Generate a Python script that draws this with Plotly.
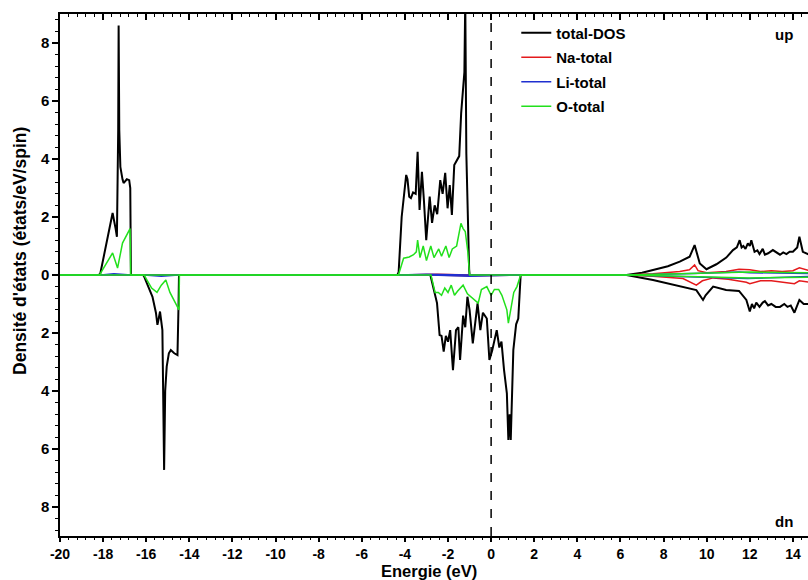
import numpy as np
import plotly.graph_objects as go

# ---------------- data ----------------
E_tot_up = [-20, -18.2, -18.13, -17.9, -17.7, -17.56, -17.42, -17.36, -17.3, -17.28, -17.25,
            -17.2, -17.1, -17.05, -16.9, -16.79, -16.74, -16.71,
            -4.35, -4.29, -4.15, -4.06, -3.98, -3.94, -3.88, -3.8, -3.72, -3.62, -3.5, -3.41,
            -3.32, -3.21, -3.12, -3.01, -2.85, -2.74, -2.62, -2.5, -2.36, -2.25, -2.13, -2.02,
            -1.92, -1.82, -1.71, -1.59, -1.48, -1.39, -1.28, -1.24, -1.2, -1.15, -1.02, -1.0,
            6.28, 7.0, 7.51, 8.2, 8.75, 9.21, 9.44, 9.68, 9.99, 10.45, 10.91, 11.22, 11.4, 11.53,
            11.62, 11.7, 11.8, 11.91, 12.0, 12.07, 12.22, 12.35, 12.45, 12.6, 12.7, 12.85, 13.07,
            13.2, 13.4, 13.55, 13.7, 13.85, 14.0, 14.2, 14.3, 14.46, 14.75]
DOS_tot_up = [0, 0, 0.05, 0.9, 1.6, 2.14, 1.6, 1.32, 5.0, 8.6, 5.0,
              3.73, 3.3, 3.17, 3.3, 3.27, 3.0, 0,
              0, 0.1, 2.0, 2.64, 3.0, 3.45, 3.3, 2.7, 2.65, 2.85, 2.8, 4.25,
              2.24, 3.56, 2.6, 1.2, 2.7, 1.8, 2.4, 2.1, 3.27, 2.8, 3.52, 2.3,
              3.1, 2.07, 3.79, 3.97, 4.1, 5.58, 6.5, 7.0, 9.5, 4.2, 0.2, 0,
              0, 0.08, 0.17, 0.3, 0.46, 0.63, 1.03, 0.4, 0.2, 0.37, 0.6, 0.86, 0.95, 1.2,
              0.95, 1.0, 0.9, 1.09, 1.0, 1.2, 0.8, 0.85, 0.72, 0.9, 0.7, 0.75, 0.86,
              0.8, 0.7, 0.78, 0.72, 0.8, 0.8, 0.95, 1.32, 0.8, 0.7]

E_tot_dn = [-20, -16.15, -16.1, -15.9, -15.71, -15.55, -15.48, -15.42, -15.36, -15.25, -15.2,
            -15.17, -15.12, -15.05, -14.95, -14.86, -14.7, -14.55, -14.5, -14.48,
            -2.82, -2.79, -2.65, -2.51, -2.39, -2.3, -2.2, -2.1, -2.0, -1.9, -1.77, -1.63,
            -1.52, -1.44, -1.3, -1.2, -1.1, -1.0, -0.85, -0.75, -0.63, -0.5, -0.38, -0.2,
            -0.08, 0.05, 0.15, 0.26, 0.38, 0.48, 0.6, 0.73, 0.8, 0.86, 0.91, 1.03, 1.16,
            1.26, 1.37,
            6.28, 7.51, 8.9, 9.52, 9.83, 9.95, 10.3, 10.9, 11.5, 11.84, 12.0, 12.1, 12.2, 12.3,
            12.45, 12.6, 12.7, 12.85, 13.0, 13.2, 13.4, 13.6, 13.75, 13.9, 14.07, 14.3, 14.5, 14.75]
DOS_tot_dn = [0, 0, -0.05, -0.4, -0.75, -1.3, -1.72, -1.5, -1.26, -1.9, -4.0,
              -6.72, -4.0, -3.16, -2.7, -2.59, -2.7, -2.76, -1.0, 0,
              0, -0.1, -0.6, -0.97, -2.07, -2.1, -2.64, -2.1, -2.3, -1.9, -3.28, -1.9,
              -1.8, -2.93, -1.4, -1.8, -0.75, -1.2, -2.36, -1.7, -0.98, -1.9, -1.3, -1.5,
              -2.93, -2.6, -2.3, -1.9, -2.5, -2.3, -3.28, -4.08, -5.69, -4.8, -5.69, -2.59, -1.7,
              -1.5, 0,
              0, -0.17, -0.4, -0.52, -0.86, -0.7, -0.4, -0.52, -0.55, -0.86, -1.26, -1.0, -1.15, -0.95,
              -1.1, -0.95, -0.9, -1.05, -1.0, -1.1, -1.1, -1.0, -1.1, -1.05, -1.3, -0.86, -1.0, -1.0]

E_na_up = [-20, -18.1, -17.5, -16.7, -4.3, -2.5, -1.0, 6.3, 7.5, 8.75, 9.2, 9.44, 9.6, 10.0,
           10.9, 11.5, 12.0, 12.5, 13.0, 13.5, 14.0, 14.3, 14.75]
DOS_na_up = [0, 0, 0.02, 0, 0, 0.03, 0, 0, 0.04, 0.12, 0.18, 0.35, 0.15, 0.08,
             0.12, 0.2, 0.18, 0.12, 0.15, 0.12, 0.15, 0.25, 0.15]
E_na_dn = [-20, -16.1, -15.3, -14.5, -2.8, -1.0, 1.37, 6.3, 7.5, 8.9, 9.52, 9.8, 10.3, 11.0,
           11.84, 12.0, 12.5, 13.0, 13.5, 14.07, 14.3, 14.75]
DOS_na_dn = [0, 0, -0.02, 0, 0, -0.03, 0, 0, -0.04, -0.12, -0.35, -0.2, -0.1, -0.15,
             -0.25, -0.3, -0.2, -0.2, -0.25, -0.3, -0.2, -0.25]

E_li_up = [-20, -18.1, -17.5, -16.7, -4.3, -3.0, -1.0, 6.3, 9.4, 11.5, 12.0, 14.75]
DOS_li_up = [0, 0, 0.04, 0, 0, 0.03, 0, 0, 0.05, 0.1, 0.08, 0.05]
E_li_dn = [-20, -16.1, -15.3, -14.5, -2.8, -1.0, 1.37, 6.3, 11.9, 14.75]
DOS_li_dn = [0, 0, -0.04, 0, 0, -0.04, 0, 0, -0.12, -0.05]

E_o_up = [-20, -18.15, -18.13, -17.56, -17.33, -17.1, -16.75, -16.72,
          -4.3, -4.06, -3.8, -3.6, -3.47, -3.41, -3.3, -3.15, -3.0, -2.8, -2.65, -2.43,
          -2.3, -2.1, -1.95, -1.8, -1.6, -1.4, -1.3, -1.2, -1.08, -1.0,
          6.3, 9.4, 12.0, 14.75]
DOS_o_up = [0, 0, 0.05, 0.76, 0.24, 1.1, 1.6, 0,
            0, 0.58, 0.62, 0.7, 0.8, 1.2, 0.6, 1.0, 0.5, 1.0, 0.6, 0.9,
            0.65, 1.0, 0.6, 0.9, 1.0, 1.78, 1.6, 1.5, 0.8, 0,
            0, 0.06, 0.1, 0.08]
E_o_dn = [-20, -16.1, -15.75, -15.5, -15.3, -15.09, -14.9, -14.48, -14.46,
          -2.79, -2.6, -2.45, -2.3, -2.15, -2.0, -1.85, -1.7, -1.55, -1.3, -1.1, -0.6,
          -0.45, -0.2, 0.0, 0.15, 0.35, 0.5, 0.73, 0.8, 0.92, 1.05, 1.2, 1.37,
          6.3, 9.5, 12.0, 14.75]
DOS_o_dn = [0, 0, -0.45, -0.6, -0.35, -0.17, -0.6, -1.2, 0,
            0, -0.6, -0.6, -0.7, -0.45, -0.6, -0.35, -0.7, -0.55, -0.35, -0.65, -0.97,
            -0.5, -0.4, -0.7, -0.5, -0.5, -0.7, -1.2, -1.66, -1.2, -0.6, -0.4, 0,
            0, -0.06, -0.1, -0.08]

x_major = [-20, -18, -16, -14, -12, -10, -8, -6, -4, -2, 0, 2, 4, 6, 8, 10, 12, 14]
y_major = [-8, -6, -4, -2, 0, 2, 4, 6, 8]
y_labels = ["8", "6", "4", "2", "0", "2", "4", "6", "8"]

# ---------------- figure ----------------
FONT = "Arial, Liberation Sans, sans-serif"
fig = go.Figure()

series = [
    ("total-DOS", "#000000", 2.0, E_tot_up, DOS_tot_up, E_tot_dn, DOS_tot_dn),
    ("Na-total", "#e41a1c", 1.5, E_na_up, DOS_na_up, E_na_dn, DOS_na_dn),
    ("Li-total", "#1f2fd0", 1.5, E_li_up, DOS_li_up, E_li_dn, DOS_li_dn),
    ("O-total", "#22e01c", 1.5, E_o_up, DOS_o_up, E_o_dn, DOS_o_dn),
]
for name, col, w, eu, du, ed, dd in series:
    fig.add_trace(go.Scatter(x=eu, y=du, mode="lines", name=name, legendgroup=name,
                             line=dict(color=col, width=w), showlegend=True))
    fig.add_trace(go.Scatter(x=ed, y=dd, mode="lines", name=name, legendgroup=name,
                             line=dict(color=col, width=w), showlegend=False))

# invisible trace carrying the top axis
fig.add_trace(go.Scatter(x=[-20], y=[0], xaxis="x2", mode="markers",
                         marker=dict(opacity=0), showlegend=False, hoverinfo="skip"))

fig.add_shape(type="line", x0=0, x1=0, y0=0, y1=1, xref="x", yref="paper",
              line=dict(color="black", width=1.5, dash="dash"))

xr = [-20, 14.7]
x_minor = [v for v in np.round(np.arange(-20, 15, 0.4), 2) if abs(v / 2 - round(v / 2)) > 1e-6]
y_minor = [v for v in np.round(np.arange(-8.8, 9.0, 0.4), 2) if abs(v / 2 - round(v / 2)) > 1e-6]

ytickfont = dict(family=FONT, size=15, color="black", weight="bold")
xtickfont = dict(family=FONT, size=14, color="black", weight="bold")
fig.update_layout(
    width=808, height=580,
    margin=dict(l=60, r=0, t=14, b=44),
    plot_bgcolor="white", paper_bgcolor="white",
    showlegend=True,
    legend=dict(x=0.61, y=0.995, xanchor="left", yanchor="top",
                font=dict(family=FONT, size=15, color="black", weight="bold"),
                bgcolor="rgba(0,0,0,0)", traceorder="grouped", tracegroupgap=2),
    xaxis=dict(range=xr, tickmode="array", tickvals=x_major,
               ticktext=["<b>%d</b>" % v for v in x_major], tickfont=xtickfont,
               ticks="outside", ticklen=4, tickwidth=1.5, tickcolor="black",
               showline=True, linecolor="black", linewidth=1.5,
               showgrid=False, zeroline=False,
               minor=dict(tickmode="array", tickvals=x_minor, ticks="outside",
                          ticklen=2.5, tickwidth=1.2, tickcolor="black", showgrid=False)),
    xaxis2=dict(range=xr, overlaying="x", side="top", anchor="y",
                tickmode="array", tickvals=x_major, showticklabels=False,
                ticks="inside", ticklen=6, tickwidth=1.5, tickcolor="black",
                showline=True, linecolor="black", linewidth=1.5,
                showgrid=False, zeroline=False,
                minor=dict(tickmode="array", tickvals=x_minor, ticks="inside",
                           ticklen=3, tickwidth=1.2, tickcolor="black", showgrid=False)),
    yaxis=dict(range=[-9, 9], tickmode="array", tickvals=y_major,
               ticktext=["<b>%s</b>" % t for t in y_labels],
               tickfont=ytickfont,
               ticks="outside", ticklen=6, tickwidth=1.5, tickcolor="black",
               showline=True, linecolor="black", linewidth=1.5,
               showgrid=False, zeroline=False,
               minor=dict(tickmode="array", tickvals=y_minor, ticks="outside",
                          ticklen=3, tickwidth=1.2, tickcolor="black", showgrid=False)),
)

# axis titles
fig.add_annotation(text="<b>Energie (eV)</b>", x=0.493, y=-0.067, xref="paper", yref="paper",
                   showarrow=False, xanchor="center", yanchor="middle",
                   font=dict(family=FONT, size=16.5, color="black"))
fig.add_annotation(text="<b>Densité d'états (états/eV/spin)</b>", x=-0.0535, y=0.546,
                   xref="paper", yref="paper", textangle=-90,
                   showarrow=False, xanchor="center", yanchor="middle",
                   font=dict(family=FONT, size=17.5, color="black"))

fig.add_annotation(text="<b>up</b>", x=0.968, y=0.96, xref="paper", yref="paper",
                   showarrow=False, xanchor="center", yanchor="middle",
                   font=dict(family=FONT, size=15, color="black"))
fig.add_annotation(text="<b>dn</b>", x=0.968, y=0.027, xref="paper", yref="paper",
                   showarrow=False, xanchor="center", yanchor="middle",
                   font=dict(family=FONT, size=15, color="black"))

fig.write_html("out.html", config={"displayModeBar": False},
               post_script="document.body.style.margin='0px';")
